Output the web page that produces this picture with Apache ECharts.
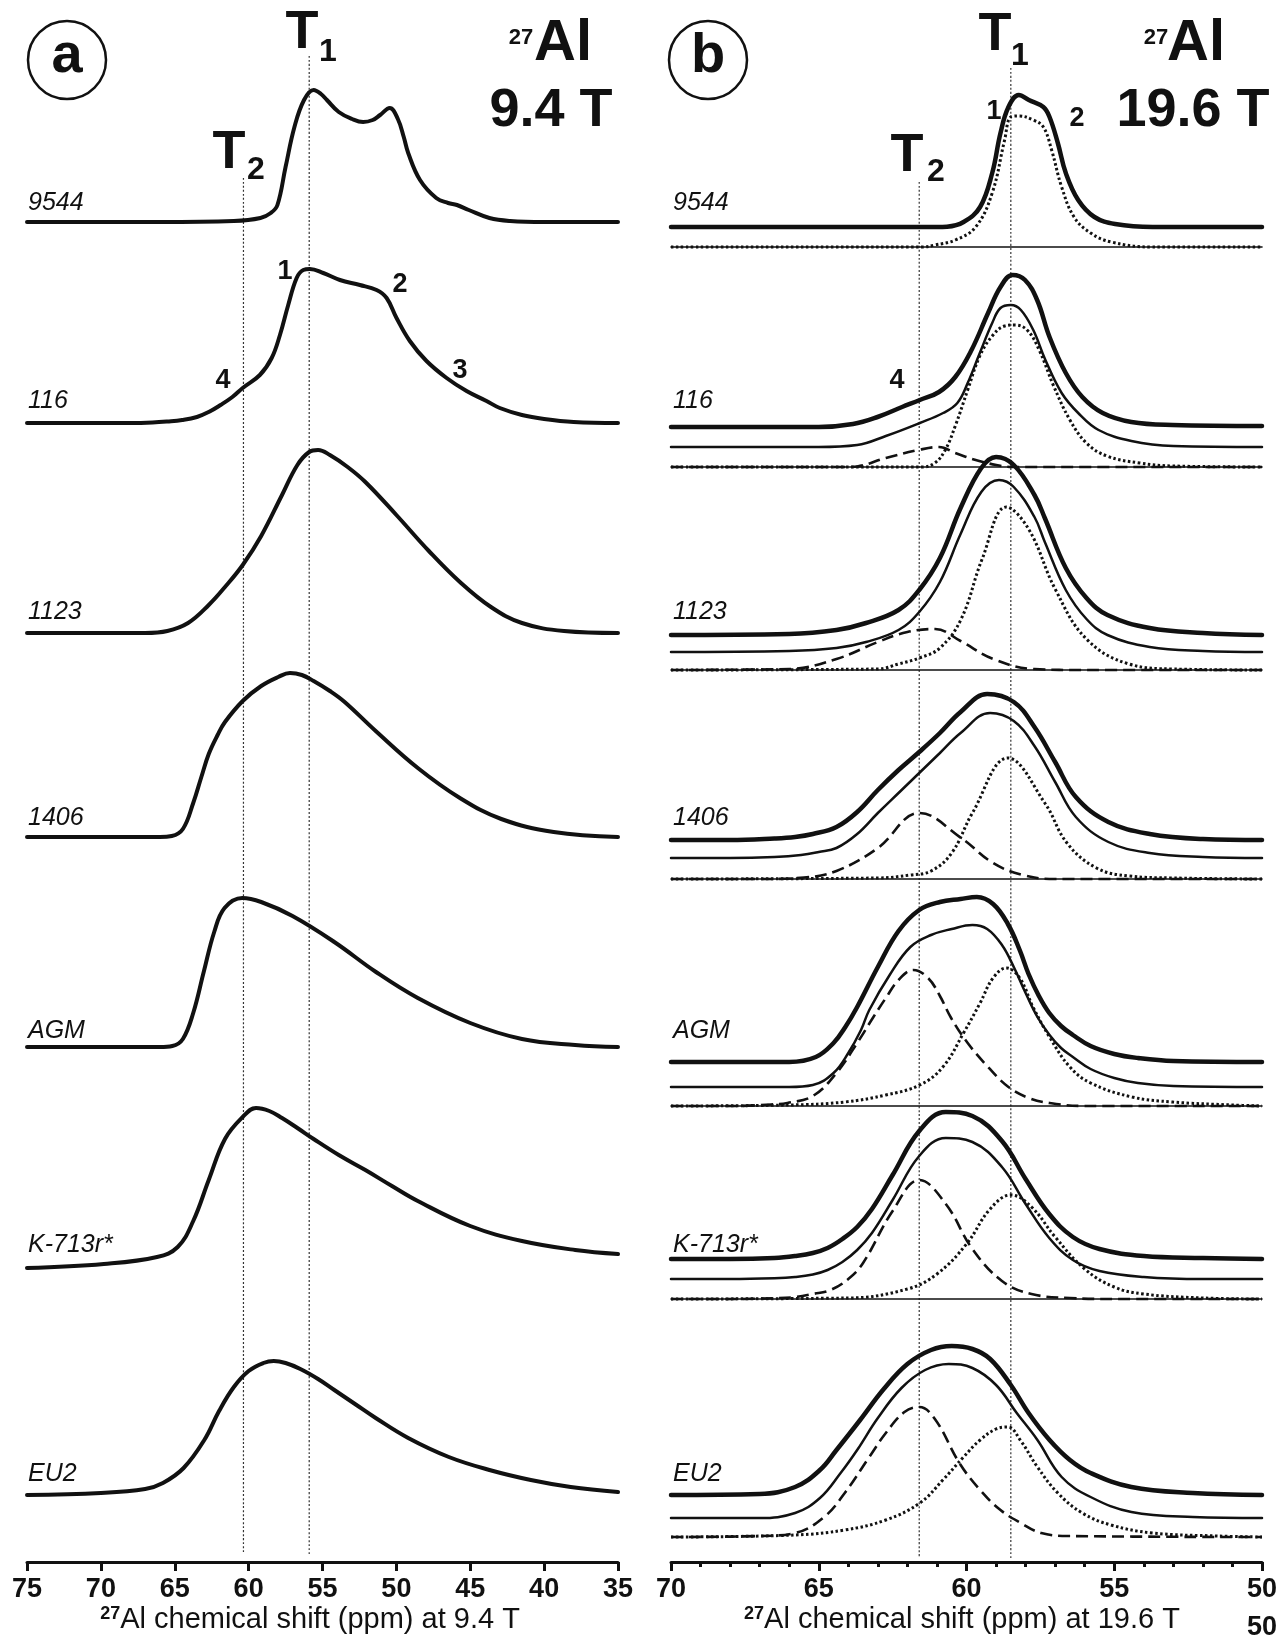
<!DOCTYPE html>
<html><head><meta charset="utf-8">
<script src="https://cdn.jsdelivr.net/npm/echarts@6/dist/echarts.min.js"></script>
<style>html,body{margin:0;padding:0;background:#fff}#chart{width:1282px;height:1638px}</style>
</head><body><div id="chart"></div>
<script>
// ---- sample names and axis ticks ----
const samples = ['9544', '116', '1123', '1406', 'AGM', 'K-713r*', 'EU2'];
const ticksA = [35, 40, 45, 50, 55, 60, 65, 70, 75];
const ticksB = [50, 55, 60, 65, 70];
const siteA = { T1: 55.9, T2: 60.35 };
const siteB = { T1: 58.5, T2: 61.6 };

// ---- (a) 9.4 T spectra: [ppm, intensity] ----
const a9544 = [[75,0],[66,0],[61,1],[59.2,4],[58.5,9],[58.05,17],[57.5,55],[56.9,95],[56.25,122],[55.6,132],[55.1,128],[54.7,122],[53.9,110],[53,103],[52.25,100],[51.6,102],[51.1,107],[50.45,114],[49.9,103],[49.5,85],[49.2,69],[48.4,42],[47.3,24],[46.5,19],[45.9,17],[45.1,12],[43.7,4],[42.3,1],[40,0],[35,0]];
const a116 = [[75,0],[68,0],[66.5,0.5],[65.5,1.5],[64.5,3],[63.5,6],[62.7,11],[61.9,18],[61.1,26],[60.4,35],[59.24,48],[58.44,65],[57.88,88],[57.32,118],[56.75,145],[56.3,153],[55.85,154],[54.95,150],[53.82,143],[52.47,138],[51.34,133],[50.66,125],[49.99,105],[49.09,82],[47.96,62],[46.6,45],[45.25,32],[43.9,22],[43,15],[41.5,8],[40,4],[38,1],[35,0]];
const a1123 = [[75,0],[67,0],[65.5,2],[64.1,10],[62.7,28],[61.6,46],[60.4,68],[59.15,97],[57.74,138],[56.7,168],[55.9,181],[55.3,183],[54.5,178],[53.3,166],[52.1,151],[50,118],[47.8,82],[45.7,51],[43.6,26],[41.5,10],[38.65,2],[35,0]];
const a1406 = [[75,0],[66,0],[65.2,1],[64.45,8],[63.75,34],[63.2,60],[62.7,83],[62.1,102],[61.6,115],[60.4,136],[59.15,151],[58,160],[57.2,164],[56.4,162],[55.6,156],[54.5,146],[53.5,135],[51.4,106],[48.55,69],[45.7,39],[42.9,18],[39.35,5],[35,0]];
const aAGM = [[75,0],[66,0],[65.16,1],[64.45,8],[63.75,34],[63.04,75],[62.33,115],[61.63,139],[60.43,149],[59.15,145],[57.03,131],[54.2,105],[51.38,75],[48.55,49],[45,24],[41.5,8],[37.9,2],[35,0]];
const aK713 = [[75,0],[69.8,4],[66.2,11],[64.8,21],[63.75,47],[62.7,88],[61.6,129],[60.4,151],[59.5,160],[58.6,157],[57.74,150],[56.7,140],[55.6,129],[53.9,113],[52.1,98],[50.3,82],[48.55,67],[45,42],[41.5,27],[37.9,18],[35,14]];
const aEU2 = [[75,0],[70,2],[67,6],[65.8,12],[64.4,27],[63,55],[62,84],[61,108],[60,124],[59,132],[58.3,134],[57.5,132],[56.5,126],[55.3,116],[54.2,105],[52.8,91],[51.4,77],[49.2,57],[46.45,38],[43.7,25],[40.9,15],[38.2,8],[35,3]];

// ---- (b) 19.6 T: experimental, fit sum, T1 site, T2 site ----
const b9544 = [[70,0],[61,0],[60.66,0.3],[60.1,5],[59.54,20],[59.13,54],[58.85,94],[58.58,120],[58.23,132],[57.89,127],[57.4,120],[57.19,110],[56.91,84],[56.64,54],[56.22,27],[55.67,10],[54.97,3],[53.7,0],[50,0]];
const b9544T1 = [[70,0],[61.5,0],[61.07,2],[60.38,7],[59.69,20],[59.13,54],[58.71,107],[58.5,130],[58.23,131],[57.74,127],[57.4,120],[57.12,97],[56.78,60],[56.36,30],[55.8,14],[55.1,5],[53.7,0],[50,0]];

const b116 = [[70,0],[65,0],[63.84,3],[63.01,10],[62.18,20],[61.58,27],[60.93,35],[60.38,50],[59.83,77],[59.27,114],[58.85,140],[58.44,152],[58.02,147],[57.61,127],[57.19,90],[56.64,54],[56.08,30],[55.39,14],[54.42,5],[53.03,2],[50,1]];
const b116Fit = [[70,0],[65,0],[63.7,2],[62.73,11],[61.58,24],[60.79,34],[60.31,44],[59.96,64],[59.55,94],[59.13,124],[58.85,139],[58.5,142],[58.16,137],[57.74,117],[57.33,87],[56.78,54],[56.22,34],[55.53,17],[54.42,6],[53,1],[50,0]];
const b116T1 = [[70,0],[61.5,0],[61.07,4],[60.72,17],[60.38,41],[59.96,77],[59.55,111],[59.13,131],[58.71,141],[58.37,142],[57.95,137],[57.54,117],[57.05,81],[56.5,47],[55.94,24],[55.25,11],[54.14,4],[53,1],[50,0]];
const b116T2 = [[70,0],[64,0],[63.7,0.5],[62.73,9],[61.62,17],[60.93,20],[60.38,14],[59.69,7],[58.99,2],[58.44,0],[50,0]];

const b1123 = [[70,0],[66,1],[64.4,5],[63.4,12],[62.3,25],[61.6,45],[60.9,77],[60.2,127],[59.5,167],[59,178],[58.4,170],[57.7,140],[57.35,117],[56.64,67],[55.94,37],[55.23,20],[53.8,7],[52,2],[50,0]];
const b1123Fit = [[70,0],[66,1],[64.4,4],[63.4,10],[62.3,22],[61.6,40],[60.9,70],[60.2,118],[59.5,160],[58.9,172],[58.4,165],[57.7,135],[57.35,110],[56.64,62],[55.94,33],[55.23,17],[53.8,5],[52,1],[50,0]];
const b1123T1 = [[70,0],[63,1],[62.3,6],[61.6,12],[60.9,22],[60.18,51],[59.47,111],[58.65,163],[57.9,141],[57,81],[55.94,31],[54.5,6],[53,1],[50,0]];
const b1123T2 = [[70,0],[66,1],[64.4,11],[63,28],[62,38],[61.06,41],[60.2,29],[59.1,11],[57.7,1],[56,0],[50,0]];

const b1406 = [[70,0],[68,0],[66.5,1.5],[65.8,3],[65.2,6],[64.4,13],[63.7,28],[63,50],[62.3,70],[61.6,88],[60.9,107],[60.2,128],[59.3,146],[58.4,138],[57.7,113],[57,78],[56.3,43],[55.2,18],[53.8,6],[52,1],[50,0]];
const b1406Fit = [[70,0],[68,0],[66.5,1],[65.6,3],[65,6],[64.4,10],[63.7,24],[63,45],[62.3,65],[61.6,85],[60.9,105],[60.2,125],[59.2,145],[58.4,137],[57.7,112],[57,76],[56.3,41],[55.2,16],[53.8,5],[52,1],[50,0]];
const b1406T1 = [[70,0],[63,1],[61.9,4],[61.2,8],[60.5,26],[59.8,66],[58.6,121],[57.35,76],[56.6,36],[55.6,11],[54.5,3],[53,1],[50,0]];
const b1406T2 = [[70,0],[67,0],[65.5,1.5],[64.4,8],[63,31],[61.6,66],[60.18,41],[59.1,16],[58.1,4],[57,0],[50,0]];

const bAGM = [[70,0],[66,0],[65.1,5],[64.5,19],[64.1,35],[63.7,55],[63,95],[62.3,131],[61.6,152],[60.9,160],[60.2,163],[59.65,165],[59.1,158],[58.6,138],[58.2,112],[57.9,88],[57.55,66],[57.2,49],[56.8,36],[56.4,27],[55.8,16],[55,8],[54.2,4],[53,1],[50,0]];
const bAGMFit = [[70,0],[66,0],[65.2,2],[64.5,14],[64,34],[63.57,57],[63.29,77],[62.6,112],[61.9,140],[61.2,152],[60.5,158],[59.8,162],[59.3,158],[58.8,142],[58.4,120],[58,94],[57.6,70],[57.19,52],[56.8,39],[56.4,30],[55.8,18],[55,9],[54.2,4],[53,1],[50,0]];
const bAGMT1 = [[70,0],[66,1],[64.12,4],[62.73,11],[61.58,21],[60.8,39],[60.1,73],[59.54,103],[59.1,128],[58.65,138],[58.2,128],[57.75,99],[57.19,69],[56.5,39],[55.8,23],[54.4,9],[53.03,4],[51,1],[50,0]];
const bAGMT2 = [[70,0],[68,0],[66.6,1.5],[66.06,3],[65.2,10],[64.4,33],[63.7,63],[63.15,89],[62.73,108],[62.3,126],[61.8,136],[61.3,128],[60.9,110],[60.52,88],[59.96,63],[59.27,39],[58.58,19],[57.89,8],[57.19,3],[56,0],[50,0]];

const bK713 = [[70,0],[68,0],[66.5,1],[65.8,3],[65.2,6],[64.7,11],[64.2,20],[63.7,32],[63.2,50],[62.5,84],[61.6,128],[60.7,147],[59.8,143],[58.8,118],[58,80],[57.2,45],[56.4,22],[55.5,10],[54,3],[52,1],[50,0]];
const bK713Fit = [[70,0],[68,0],[66.5,0.8],[65.8,2],[65.2,4.5],[64.7,9],[64.2,17],[63.7,29],[63.2,46],[62.5,79],[61.6,123],[60.7,141],[59.8,137],[58.8,112],[58,75],[57.2,41],[56.4,19],[55.5,8],[54,2],[52,0],[50,0]];
const bK713T1 = [[70,0],[64,1],[62,10],[61,25],[60,55],[59.2,90],[58.5,104],[57.8,92],[57,62],[56,30],[55,12],[54,5],[52,1],[50,0]];
const bK713T2 = [[70,0],[68,0],[66.5,0.8],[65.8,2],[65.2,5],[64.6,9],[64,20],[63.5,36],[62.5,88],[61.6,119],[60.7,95],[59.8,50],[58.8,18],[57.8,5],[56.5,1],[55,0],[50,0]];

const bEU2 = [[70,0],[67,1],[65.8,8],[64.96,25],[64.4,45],[63.6,75],[62.8,106],[62,131],[61.2,145],[60.5,149],[59.8,146],[59.2,136],[58.5,110],[57.9,82],[57.19,55],[56.5,35],[55.8,22],[54.42,8],[52.34,2],[50,0]];
const bEU2Fit = [[70,0],[67,0],[65.8,5],[64.96,20],[64.26,45],[63.7,68],[63,100],[62.2,130],[61.4,148],[60.6,154],[59.8,150],[59,133],[58.3,105],[57.6,78],[56.78,41],[55.8,21],[54.42,6],[52.34,1],[50,0]];
const bEU2T1 = [[70,0],[65.8,2],[64.12,7],[62.73,17],[61.58,34],[60.8,57],[60.1,80],[59.54,97],[59,108],[58.6,110],[58.16,96],[57.6,70],[56.91,44],[56.08,24],[55.11,12],[53.7,4],[51.5,1],[50,0]];
const bEU2T2 = [[70,0],[67,1],[65.8,4],[64.82,20],[64.12,44],[63.29,80],[62.73,104],[62.1,125],[61.6,130],[61.07,118],[60.24,74],[59.54,47],[58.85,27],[58.16,14],[57.47,4],[56.5,1],[50,0]];

// ---- layout (pixel rows of each trace's baseline) ----
const PLOT_H = 1562;
const rowA = [222, 423, 633, 837, 1047, 1268, 1495];
const rowB = [227, 427, 635, 840, 1062, 1259, 1495];
const rowBFit = [null, 447, 652, 858, 1087, 1279, 1518];
const rowBZero = [247, 467, 670, 879, 1106, 1299, 1537];
const zeroLineShown = [true, true, true, true, true, true, false];
const labelRow = [203, 401, 612, 818, 1031, 1245, 1474];

const specA = [a9544, a116, a1123, a1406, aAGM, aK713, aEU2];
const specB = [b9544, b116, b1123, b1406, bAGM, bK713, bEU2];
const fitB = [null, b116Fit, b1123Fit, b1406Fit, bAGMFit, bK713Fit, bEU2Fit];
const t1B = [b9544T1, b116T1, b1123T1, b1406T1, bAGMT1, bK713T1, bEU2T1];
const t2B = [null, b116T2, b1123T2, b1406T2, bAGMT2, bK713T2, bEU2T2];

const FONT = '"Liberation Sans", Arial, sans-serif';
const place = (arr, row) => arr.map(p => [p[0], PLOT_H - row + p[1]]);

const series = [];
function addLine(axis, data, style, z) {
  series.push({
    type: 'line', xAxisIndex: axis, yAxisIndex: axis, data: data,
    showSymbol: false, symbol: 'none', smooth: 0.4, silent: true,
    lineStyle: Object.assign({ color: '#111', cap: 'round', join: 'round' }, style),
    z: z || 3, animation: false
  });
}
// vertical site markers
const vStyle = { width: 1.2, type: [2, 2], color: '#333', cap: 'butt' };
addLine(0, [[siteA.T1, PLOT_H - 56], [siteA.T1, PLOT_H - 1555]], vStyle, 1);
addLine(0, [[siteA.T2, PLOT_H - 178], [siteA.T2, PLOT_H - 1553]], vStyle, 1);
addLine(1, [[siteB.T1, PLOT_H - 68], [siteB.T1, PLOT_H - 1558]], vStyle, 1);
addLine(1, [[siteB.T2, PLOT_H - 182], [siteB.T2, PLOT_H - 1558]], vStyle, 1);

specA.forEach((s, i) => addLine(0, place(s, rowA[i]), { width: 4 }));
specB.forEach((s, i) => {
  addLine(1, place(s, rowB[i]), { width: 4.5 });
  if (fitB[i]) addLine(1, place(fitB[i], rowBFit[i]), { width: 2.5 });
  if (zeroLineShown[i]) addLine(1, [[70, PLOT_H - rowBZero[i]], [50, PLOT_H - rowBZero[i]]], { width: 1.6 }, 2);
  addLine(1, place(t1B[i], rowBZero[i]), { width: 3, type: [2.5, 2.5], cap: 'butt' });
  if (t2B[i]) addLine(1, place(t2B[i], rowBZero[i]), { width: 2.6, type: [12, 6], cap: 'butt' });
});

function xAxisCfg(ticks, idx, minor) {
  return {
    type: 'value', gridIndex: idx, inverse: true,
    min: Math.min(...ticks), max: Math.max(...ticks), interval: 5,
    axisLine: { show: true, lineStyle: { color: '#111', width: 3 } },
    axisTick: { show: true, length: 9, lineStyle: { color: '#111', width: 3 } },
    minorTick: { show: minor, splitNumber: 5, length: 5, lineStyle: { color: '#111', width: 3 } },
    splitLine: { show: false },
    axisLabel: { fontFamily: FONT, fontSize: 27, fontWeight: 'bold', color: '#111', margin: 14,
      showMinLabel: true, showMaxLabel: true }
  };
}

const txt = (x, y, text, size, opts) => ({
  type: 'text', x: x, y: y, silent: true,
  style: Object.assign({ text: text, fontFamily: FONT, fontSize: size, fontWeight: 'bold', fill: '#111',
    textAlign: 'center', textVerticalAlign: 'middle', align: 'center', verticalAlign: 'middle' }, opts || {})
});
const axisTitle = (x, field) => ({
  type: 'text', x: x, y: 1620, silent: true, style: {
    text: '{s|27}{n|Al chemical shift (ppm) at ' + field + '}', textAlign: 'center', textVerticalAlign: 'middle',
    align: 'center', verticalAlign: 'middle',
    rich: { s: { fontFamily: FONT, fontSize: 18, fontWeight: 'bold', fill: '#111', verticalAlign: 'top', padding: [0, 0, 12, 0] },
            n: { fontFamily: FONT, fontSize: 29, fill: '#111' } } }
});

const graphics = [
  { type: 'circle', shape: { cx: 67, cy: 60, r: 39 }, style: { fill: 'none', stroke: '#111', lineWidth: 2.5 } },
  { type: 'circle', shape: { cx: 708, cy: 60, r: 39 }, style: { fill: 'none', stroke: '#111', lineWidth: 2.5 } },
  txt(67, 57, 'a', 56), txt(708, 57, 'b', 56),
  // site labels, panel a
  txt(302, 33, 'T', 54), txt(328, 52, '1', 32),
  txt(229, 153, 'T', 54), txt(256, 170, '2', 32),
  // site labels, panel b
  txt(995, 35, 'T', 54), txt(1020, 56, '1', 32),
  txt(907, 156, 'T', 54), txt(936, 172, '2', 32),
  // nucleus and field
  txt(521, 38, '27', 22), txt(563, 44, 'Al', 58),
  txt(551, 111, '9.4 T', 54),
  txt(1156, 38, '27', 22), txt(1196, 44, 'Al', 58),
  txt(1193, 111, '19.6 T', 54),
  // feature numbers
  txt(285, 272, '1', 27), txt(400, 285, '2', 27), txt(460, 371, '3', 27), txt(223, 381, '4', 27),
  txt(994, 112, '1', 27), txt(1077, 119, '2', 27), txt(897, 381, '4', 27),
  axisTitle(310, '9.4 T'), axisTitle(962, '19.6 T'),
  txt(1262, 1628, '50', 27)
];
samples.forEach((name, i) => {
  const o = { fontWeight: 'normal', fontStyle: 'italic', textAlign: 'left', align: 'left' };
  graphics.push(txt(28, labelRow[i], name, 25, o));
  graphics.push(txt(673, labelRow[i], name, 25, o));
});

const chart = echarts.init(document.getElementById('chart'), null, { renderer: 'canvas' });
chart.setOption({
  animation: false,
  backgroundColor: '#fff',
  grid: [
    { left: 27, width: 591, top: 0, height: PLOT_H },
    { left: 671, width: 591, top: 0, height: PLOT_H }
  ],
  xAxis: [xAxisCfg(ticksA, 0, false), xAxisCfg(ticksB, 1, true)],
  yAxis: [
    { type: 'value', gridIndex: 0, min: 0, max: PLOT_H, show: false },
    { type: 'value', gridIndex: 1, min: 0, max: PLOT_H, show: false }
  ],
  series: series,
  graphic: graphics
});
</script></body></html>
